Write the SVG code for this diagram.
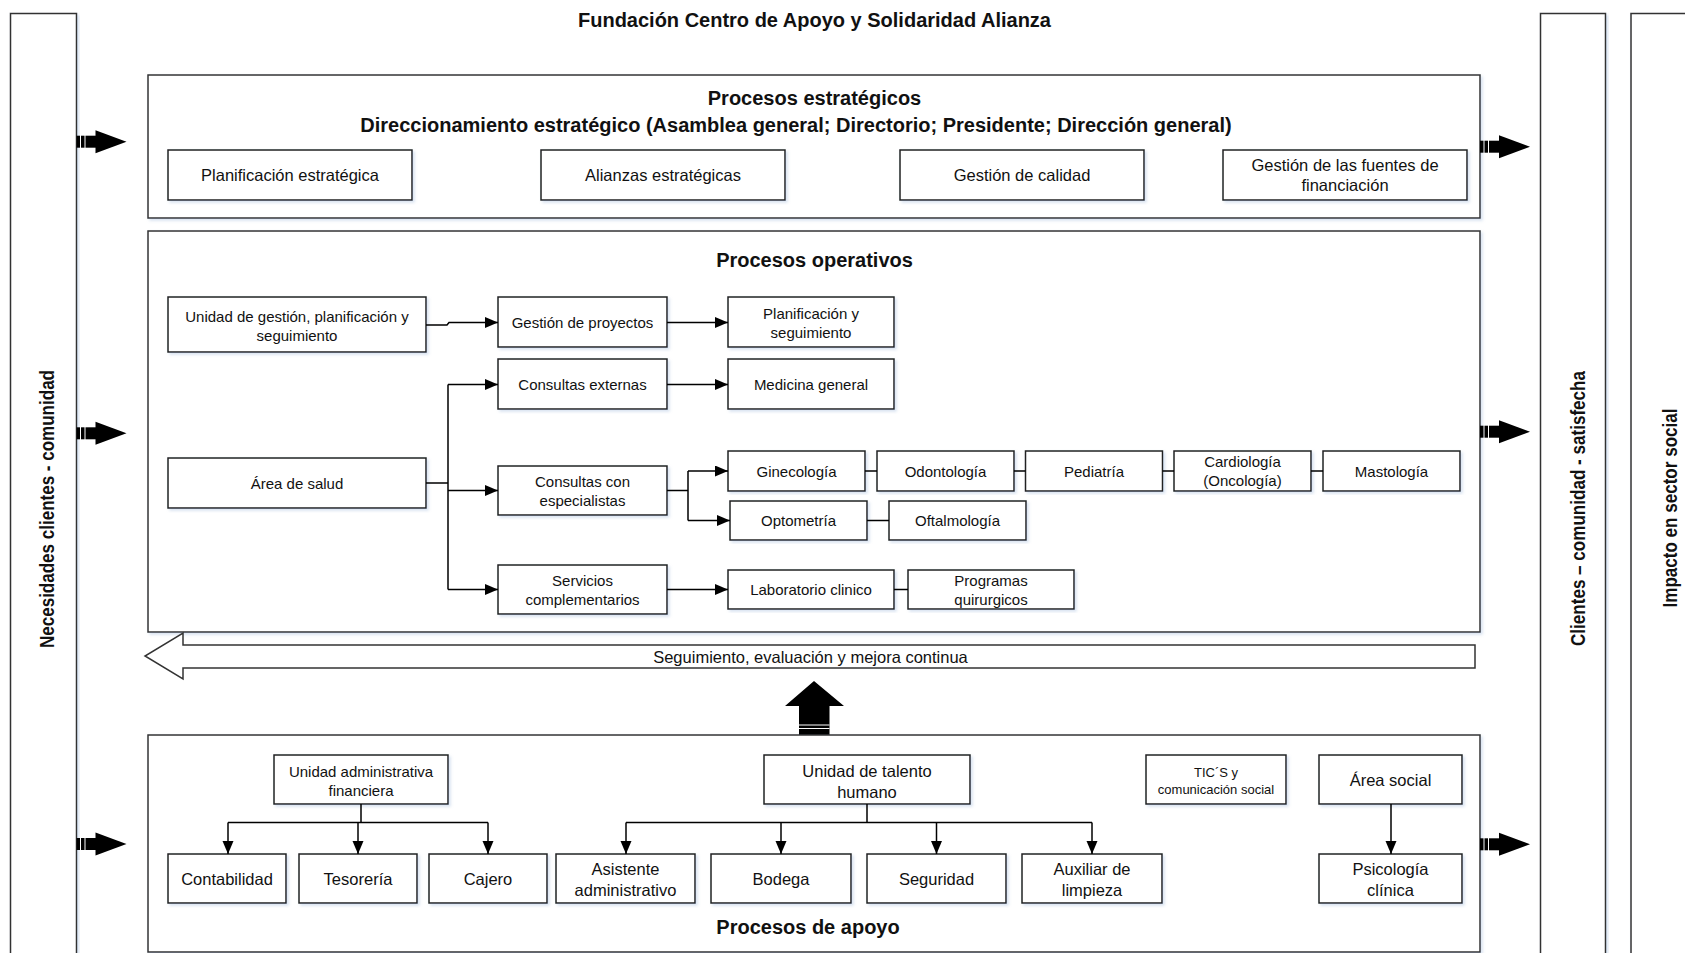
<svg xmlns="http://www.w3.org/2000/svg" xmlns:xlink="http://www.w3.org/1999/xlink" width="1685" height="953" viewBox="0 0 1685 953">
<style>
.bg{fill:#fff}
.box{fill:#fff;stroke:#222;stroke-width:1.5;filter:url(#sh)}
.cont{fill:#fff;stroke:#333;stroke-width:1.5;filter:url(#sh)}
.t{font-family:"Liberation Sans",Arial,sans-serif;fill:#111;text-anchor:middle;dominant-baseline:central}
.s13{font-size:13px}
.s15{font-size:15px}
.s165{font-size:16.5px}
.b20{font-size:20px;font-weight:bold}
.vt{font-family:"Liberation Sans Narrow","Liberation Sans",Arial,sans-serif;font-size:21px;font-weight:bold;fill:#111;text-anchor:middle;dominant-baseline:central}
.ln{fill:none;stroke:#000;stroke-width:1.5}
.ar{fill:none;stroke:#000;stroke-width:1.5;marker-end:url(#ah)}
</style>
<defs>
<filter id="sh" x="-5%" y="-5%" width="110%" height="115%">
<feDropShadow dx="2" dy="2" stdDeviation="1.5" flood-color="#7f9fcf" flood-opacity="0.3"/>
</filter>
<marker id="ah" markerUnits="userSpaceOnUse" markerWidth="14" markerHeight="12" refX="13" refY="5.5" orient="auto">
<path d="M0,0 L13,5.5 L0,11 z" fill="#000"/>
</marker>
<g id="sarrow">
<rect x="0" y="-6" width="3.5" height="12" fill="#000"/>
<rect x="4.5" y="-6" width="3.5" height="12" fill="#000"/>
<rect x="9" y="-6" width="11" height="12" fill="#000"/>
<polygon points="19,-11.5 50,0 19,11.5" fill="#000"/>
</g>
</defs>
<rect class="bg" x="0" y="0" width="1685" height="953"/>

<g id="col-necesidades">
<rect class="cont" x="10.5" y="13.5" width="66" height="960"/>
<text class="vt" transform="translate(46.5,509) rotate(-90)" textLength="278" lengthAdjust="spacingAndGlyphs">Necesidades clientes - comunidad</text>
</g>
<g id="col-clientes">
<rect class="cont" x="1540.5" y="13.5" width="65" height="960"/>
<text class="vt" transform="translate(1577,508.5) rotate(-90)" textLength="275" lengthAdjust="spacingAndGlyphs">Clientes – comunidad - satisfecha</text>
</g>
<g id="col-impacto">
<rect class="cont" x="1631" y="13.5" width="100" height="960"/>
<text class="vt" transform="translate(1669,508) rotate(-90)" textLength="199" lengthAdjust="spacingAndGlyphs">Impacto en sector social</text>
</g>

<g id="title">
<text class="t b20" x="814.5" y="19.5">Fundación Centro de Apoyo y Solidaridad Alianza</text>
</g>

<g id="estrategicos">
<rect class="cont" x="148" y="75" width="1332" height="143"/>
<text class="t b20" x="814.5" y="97.5">Procesos estratégicos</text>
<text class="t b20" x="796" y="124.5">Direccionamiento estratégico (Asamblea general; Directorio; Presidente; Dirección general)</text>
</g>
<g id="n-plan-est"><rect class="box" x="168" y="150" width="244" height="50"/><text class="t s165" x="290" y="175">Planificación estratégica</text></g>
<g id="n-alianzas"><rect class="box" x="541" y="150" width="244" height="50"/><text class="t s165" x="663" y="175">Alianzas estratégicas</text></g>
<g id="n-calidad"><rect class="box" x="900" y="150" width="244" height="50"/><text class="t s165" x="1022" y="175">Gestión de calidad</text></g>
<g id="n-fuentes"><rect class="box" x="1223" y="150" width="244" height="50"/><text class="t s165" x="1345" y="164.5">Gestión de las fuentes de</text><text class="t s165" x="1345" y="184.5">financiación</text></g>

<g id="operativos">
<rect class="cont" x="148" y="231" width="1332" height="401"/>
<text class="t b20" x="814.5" y="259.5">Procesos operativos</text>
</g>
<g id="n-unidad-gestion"><rect class="box" x="168" y="297" width="258" height="55"/><text class="t s15" x="297" y="316.5">Unidad de gestión, planificación y</text><text class="t s15" x="297" y="335">seguimiento</text></g>
<g id="n-gestion-proy"><rect class="box" x="498" y="297" width="169" height="50"/><text class="t s15" x="582.5" y="322.5">Gestión de proyectos</text></g>
<g id="n-plan-seg"><rect class="box" x="728" y="297" width="166" height="50"/><text class="t s15" x="811" y="313.5">Planificación y</text><text class="t s15" x="811" y="332">seguimiento</text></g>
<g id="n-cons-ext"><rect class="box" x="498" y="359" width="169" height="50"/><text class="t s15" x="582.5" y="384.5">Consultas externas</text></g>
<g id="n-medicina"><rect class="box" x="728" y="359" width="166" height="50"/><text class="t s15" x="811" y="384.5">Medicina general</text></g>
<g id="n-area-salud"><rect class="box" x="168" y="458" width="258" height="50"/><text class="t s15" x="297" y="483">Área de salud</text></g>
<g id="n-cons-esp"><rect class="box" x="498" y="466" width="169" height="49"/><text class="t s15" x="582.5" y="481.5">Consultas con</text><text class="t s15" x="582.5" y="500.5">especialistas</text></g>
<g id="n-servicios"><rect class="box" x="498" y="565" width="169" height="49"/><text class="t s15" x="582.5" y="580.5">Servicios</text><text class="t s15" x="582.5" y="599.5">complementarios</text></g>
<g id="n-gineco"><rect class="box" x="728" y="451" width="137" height="40"/><text class="t s15" x="796.5" y="471">Ginecología</text></g>
<g id="n-odonto"><rect class="box" x="877" y="451" width="137" height="40"/><text class="t s15" x="945.5" y="471">Odontología</text></g>
<g id="n-pediatria"><rect class="box" x="1025.5" y="451" width="137" height="40"/><text class="t s15" x="1094" y="471">Pediatría</text></g>
<g id="n-cardio"><rect class="box" x="1174" y="451" width="137" height="40"/><text class="t s15" x="1242.5" y="461.5">Cardiología</text><text class="t s15" x="1242.5" y="480.5">(Oncología)</text></g>
<g id="n-masto"><rect class="box" x="1323" y="451" width="137" height="40"/><text class="t s15" x="1391.5" y="471">Mastología</text></g>
<g id="n-opto"><rect class="box" x="730" y="501" width="137" height="39"/><text class="t s15" x="798.5" y="520.5">Optometría</text></g>
<g id="n-oftal"><rect class="box" x="889" y="501" width="137" height="39"/><text class="t s15" x="957.5" y="520.5">Oftalmología</text></g>
<g id="n-lab"><rect class="box" x="728" y="570" width="166" height="39"/><text class="t s15" x="811" y="589.5">Laboratorio clinico</text></g>
<g id="n-prog"><rect class="box" x="908" y="570" width="166" height="39"/><text class="t s15" x="991" y="580.5">Programas</text><text class="t s15" x="991" y="599.5">quirurgicos</text></g>

<g id="mejora">
<polygon points="183,645 1475,645 1475,668 183,668 183,679 145,656 183,633" fill="#fff" stroke="#333" stroke-width="1.5"/>
<text class="t s165" x="810.5" y="657">Seguimiento, evaluación y mejora continua</text>
</g>
<g id="up-arrow">
<polygon points="799,735 799,706 785,706 814,681 844,706 829.5,706 829.5,735" fill="#000"/>
<line x1="799" y1="725" x2="829.5" y2="725" stroke="#fff" stroke-width="1"/>
<line x1="799" y1="728.5" x2="829.5" y2="728.5" stroke="#fff" stroke-width="1"/>
</g>

<g id="apoyo">
<rect class="cont" x="148" y="735" width="1332" height="217"/>
<text class="t b20" x="808" y="926.5">Procesos de apoyo</text>
</g>
<g id="n-uaf"><rect class="box" x="274" y="755" width="174" height="49"/><text class="t s15" x="361" y="771">Unidad administrativa</text><text class="t s15" x="361" y="790">financiera</text></g>
<g id="n-contab"><rect class="box" x="168" y="854" width="118" height="49"/><text class="t s165" x="227" y="879">Contabilidad</text></g>
<g id="n-tesor"><rect class="box" x="299" y="854" width="118" height="49"/><text class="t s165" x="358" y="879">Tesorería</text></g>
<g id="n-cajero"><rect class="box" x="429" y="854" width="118" height="49"/><text class="t s165" x="488" y="879">Cajero</text></g>
<g id="n-uth"><rect class="box" x="764" y="755" width="206" height="49"/><text class="t s165" x="867" y="770.5">Unidad de talento</text><text class="t s165" x="867" y="791.5">humano</text></g>
<g id="n-asist"><rect class="box" x="556" y="854" width="139" height="49"/><text class="t s165" x="625.5" y="869">Asistente</text><text class="t s165" x="625.5" y="890">administrativo</text></g>
<g id="n-bodega"><rect class="box" x="711" y="854" width="140" height="49"/><text class="t s165" x="781" y="879">Bodega</text></g>
<g id="n-seguridad"><rect class="box" x="867" y="854" width="139" height="49"/><text class="t s165" x="936.5" y="879">Seguridad</text></g>
<g id="n-auxiliar"><rect class="box" x="1022" y="854" width="140" height="49"/><text class="t s165" x="1092" y="869">Auxiliar de</text><text class="t s165" x="1092" y="890">limpieza</text></g>
<g id="n-tics"><rect class="box" x="1146" y="755" width="140" height="49"/><text class="t s13" x="1216" y="772">TIC´S y</text><text class="t s13" x="1216" y="789">comunicación social</text></g>
<g id="n-area-social"><rect class="box" x="1319" y="755" width="143" height="49"/><text class="t s165" x="1390.5" y="780">Área social</text></g>
<g id="n-psico"><rect class="box" x="1319" y="854" width="143" height="49"/><text class="t s165" x="1390.5" y="869">Psicología</text><text class="t s165" x="1390.5" y="890">clínica</text></g>

<g id="connectors">
<path class="ar" d="M426,325 H447 L449,322.5 H498"/>
<path class="ar" d="M667,322.5 H728"/>
<path class="ln" d="M426,483 H448 M448,384.5 V589.5"/>
<path class="ar" d="M448,384.5 H498"/>
<path class="ar" d="M448,490.5 H498"/>
<path class="ar" d="M448,589.5 H498"/>
<path class="ar" d="M667,384.5 H728"/>
<path class="ln" d="M667,490.5 H688 M688,471 V520.5"/>
<path class="ar" d="M688,471 H728"/>
<path class="ar" d="M688,520.5 H730"/>
<path class="ar" d="M667,589.5 H728"/>
<path class="ln" d="M865,471 H877 M1014,471 H1025.5 M1162.5,471 H1174 M1311,471 H1323 M867,520.5 H889 M894,589.5 H908"/>
<path class="ln" d="M361,804 V822.5 M228,822.5 H488"/>
<path class="ar" d="M228,822.5 V854"/>
<path class="ar" d="M358,822.5 V854"/>
<path class="ar" d="M488,822.5 V854"/>
<path class="ln" d="M867,804 V822.5 M626,822.5 H1092"/>
<path class="ar" d="M626,822.5 V854"/>
<path class="ar" d="M781,822.5 V854"/>
<path class="ar" d="M936.5,822.5 V854"/>
<path class="ar" d="M1092,822.5 V854"/>
<path class="ar" d="M1391,804 V854"/>
<use xlink:href="#sarrow" x="76.5" y="141.7"/>
<use xlink:href="#sarrow" x="76.5" y="433.3"/>
<use xlink:href="#sarrow" x="76.5" y="844"/>
<use xlink:href="#sarrow" x="1480" y="146.7"/>
<use xlink:href="#sarrow" x="1480" y="431.7"/>
<use xlink:href="#sarrow" x="1480" y="844.3"/>
</g>
</svg>
